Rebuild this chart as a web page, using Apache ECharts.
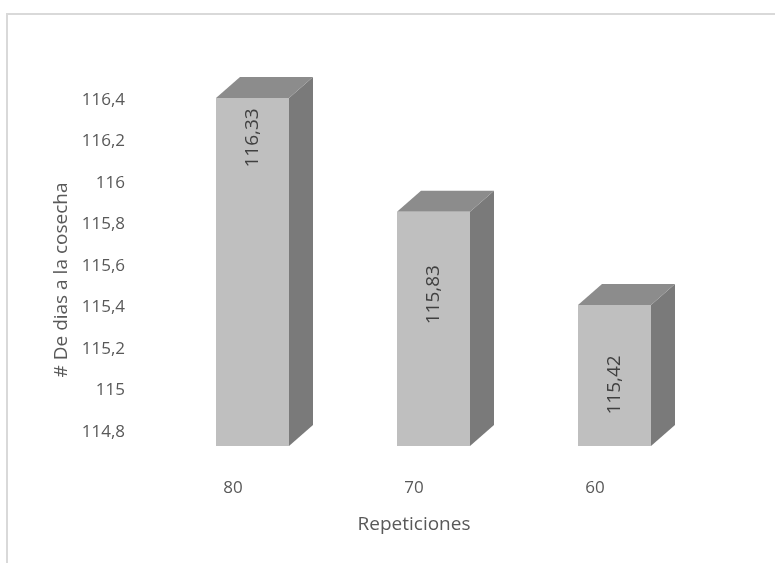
<!DOCTYPE html>
<html>
<head>
<meta charset="utf-8">
<script src="https://cdn.jsdelivr.net/npm/echarts@6/dist/echarts.min.js"></script>
<style>
  html, body { margin: 0; padding: 0; background: #ffffff; }
  #chart { width: 775px; height: 563px; }
</style>
</head>
<body>
<div id="chart"></div>
<script>
// Días a la cosecha por número de repeticiones
const categories = ['80', '70', '60'];
const values = [116.33, 115.83, 115.42];
const axisMin = 114.8;
const axisMax = 116.4;
const axisStep = 0.2;

// 3D column styling
const FONT = 'Open Sans';
const TEXT = '#595959';
const FRONT = '#bfbfbf';
const TOP = '#8c8c8c';
const SIDE = '#7a7a7a';
const DEPTH_X = 24;
const DEPTH_Y = 21;
const BAR_W = 73;
const BAR_SHIFT = 19.5;
const LABEL_DROP = [40, 83, 80];

const fmt = v => (Math.round(v * 100) / 100).toString().replace('.', ',');

const chart = echarts.init(document.getElementById('chart'), null, { renderer: 'canvas' });

function renderColumn(params, api) {
  const cat = api.value(0);
  const val = api.value(1);
  const top = api.coord([cat, val]);
  const base = api.coord([cat, axisMin]);
  const x0 = top[0] + BAR_SHIFT - BAR_W / 2;
  const x1 = x0 + BAR_W;
  const y0 = top[1];
  const y1 = base[1];
  const cx = (x0 + x1) / 2;
  return {
    type: 'group',
    children: [
      {
        type: 'polygon',
        shape: { points: [[x1, y0], [x1 + DEPTH_X, y0 - DEPTH_Y], [x1 + DEPTH_X, y1 - DEPTH_Y], [x1, y1]] },
        style: { fill: SIDE }
      },
      {
        type: 'polygon',
        shape: { points: [[x0, y0], [x0 + DEPTH_X, y0 - DEPTH_Y], [x1 + DEPTH_X, y0 - DEPTH_Y], [x1, y0]] },
        style: { fill: TOP }
      },
      {
        type: 'rect',
        shape: { x: x0, y: y0, width: BAR_W, height: y1 - y0 },
        style: { fill: FRONT }
      },
      {
        type: 'text',
        x: cx,
        y: y0 + LABEL_DROP[params.dataIndex],
        rotation: Math.PI / 2,
        style: {
          text: fmt(val),
          fill: '#404040',
          font: '19px "' + FONT + '"',
          align: 'center',
          verticalAlign: 'middle'
        }
      }
    ]
  };
}

chart.setOption({
  backgroundColor: '#ffffff',
  animation: false,
  graphic: [{
    type: 'rect',
    shape: { x: 7, y: 14, width: 900, height: 700 },
    style: { fill: 'none', stroke: '#d9d9d9', lineWidth: 2 },
    silent: true
  }],
  grid: [
    { left: 133, right: 89.5, top: 100, bottom: 131 },
    { left: 142.5, right: 89.5, top: 82, bottom: 117 }
  ],
  xAxis: [
    { gridIndex: 0, type: 'category', data: categories, show: false },
    {
      gridIndex: 1,
      type: 'category',
      data: categories,
      axisLine: { show: false },
      axisTick: { show: false },
      axisLabel: { color: TEXT, fontFamily: FONT, fontSize: 17, margin: 34 },
      name: 'Repeticiones',
      nameLocation: 'middle',
      nameGap: 69,
      nameTextStyle: { color: TEXT, fontFamily: FONT, fontSize: 19 }
    }
  ],
  yAxis: [
    {
      gridIndex: 0,
      type: 'value',
      min: axisMin,
      max: axisMax,
      interval: axisStep,
      axisLine: { show: false },
      axisTick: { show: false },
      splitLine: { show: false },
      axisLabel: { color: TEXT, fontFamily: FONT, fontSize: 17, margin: 8, formatter: v => fmt(v) },
      name: '# De dias a la cosecha',
      nameLocation: 'middle',
      nameGap: 60,
      nameTextStyle: { color: TEXT, fontFamily: FONT, fontSize: 19, padding: [0, 28, 0, 0] }
    },
    {
      gridIndex: 1,
      type: 'value',
      min: axisMin,
      max: axisMax,
      show: false
    }
  ],
  series: [{
    type: 'custom',
    xAxisIndex: 1,
    yAxisIndex: 1,
    renderItem: renderColumn,
    data: values.map((v, i) => [i, v])
  }]
});
</script>
</body>
</html>
